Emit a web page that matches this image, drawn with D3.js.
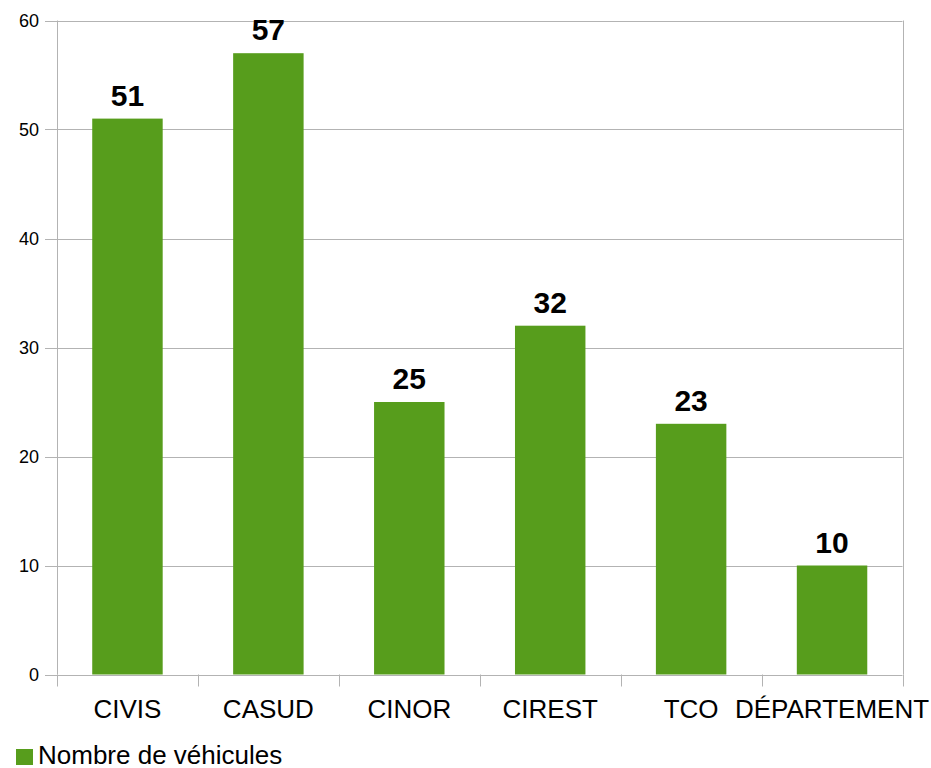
<!DOCTYPE html>
<html lang="fr">
<head>
<meta charset="UTF-8">
<title>Nombre de véhicules</title>
<script src="https://cdnjs.cloudflare.com/ajax/libs/d3/7.8.5/d3.min.js"></script>
<style>
  body { margin: 0; background: #fff; }
  text { font-family: "Liberation Sans", Arial, sans-serif; }
</style>
</head>
<body>
<script>
var categories = ["CIVIS", "CASUD", "CINOR", "CIREST", "TCO", "DÉPARTEMENT"];
var values = [51, 57, 25, 32, 23, 10];
var yTicks = [0, 10, 20, 30, 40, 50, 60];
var seriesName = "Nombre de véhicules";

var width = 931, height = 768;
var margin = {top: 20.5, right: 28.5, bottom: 93.5, left: 57};
var green = "#579d1c", grid = "#b3b3b3";

var svg = d3.select("body").append("svg")
  .attr("width", width)
  .attr("height", height);

var x = d3.scaleBand()
  .domain(categories)
  .range([margin.left, width - margin.right])
  .paddingInner(0.5)
  .paddingOuter(0.25);

var y = d3.scaleLinear()
  .domain([0, 60])
  .range([height - margin.bottom, margin.top]);

// horizontal grid lines + y tick marks
svg.selectAll(".grid")
  .data(yTicks)
  .enter().append("line")
  .attr("x1", margin.left - 12)
  .attr("x2", width - margin.right)
  .attr("y1", function(d) { return Math.round(y(d)) + 0.5; })
  .attr("y2", function(d) { return Math.round(y(d)) + 0.5; })
  .style("stroke", grid)
  .style("stroke-width", 1);

svg.selectAll(".ylab")
  .data(yTicks)
  .enter().append("text")
  .attr("x", margin.left - 18)
  .attr("y", function(d) { return y(d); })
  .attr("dy", "0.36em")
  .attr("text-anchor", "end")
  .style("font-size", "18px")
  .style("fill", "#000")
  .text(function(d) { return d; });

// left and right frame lines
[margin.left, width - margin.right].forEach(function(px) {
  svg.append("line")
    .attr("x1", Math.round(px) + 0.5).attr("x2", Math.round(px) + 0.5)
    .attr("y1", y(60)).attr("y2", y(0))
    .style("stroke", grid);
});

// category tick marks at band boundaries
var bounds = d3.range(categories.length + 1).map(function(i) {
  return margin.left + i * (width - margin.left - margin.right) / categories.length;
});
svg.selectAll(".xtick")
  .data(bounds)
  .enter().append("line")
  .attr("x1", function(d) { return Math.round(d) + 0.5; })
  .attr("x2", function(d) { return Math.round(d) + 0.5; })
  .attr("y1", y(0))
  .attr("y2", y(0) + 12)
  .style("stroke", grid);

// bars
svg.selectAll(".bar")
  .data(values)
  .enter().append("rect")
  .attr("x", function(d, i) { return x(categories[i]); })
  .attr("y", function(d) { return y(d); })
  .attr("width", x.bandwidth())
  .attr("height", function(d) { return y(0) - y(d); })
  .style("fill", green);

// value labels
svg.selectAll(".val")
  .data(values)
  .enter().append("text")
  .attr("x", function(d, i) { return x(categories[i]) + x.bandwidth() / 2; })
  .attr("y", function(d) { return y(d) - 13; })
  .attr("text-anchor", "middle")
  .style("font-size", "30px")
  .style("font-weight", "bold")
  .style("fill", "#000")
  .text(function(d) { return d; });

// category labels
svg.selectAll(".xlab")
  .data(categories)
  .enter().append("text")
  .attr("x", function(d) { return x(d) + x.bandwidth() / 2; })
  .attr("y", 718)
  .attr("text-anchor", "middle")
  .style("font-size", "26px")
  .style("fill", "#000")
  .text(function(d) { return d; });

// legend
svg.append("rect")
  .attr("x", 16).attr("y", 749)
  .attr("width", 17).attr("height", 16)
  .style("fill", green);
svg.append("text")
  .attr("x", 38).attr("y", 764)
  .style("font-size", "26px")
  .style("fill", "#000")
  .text(seriesName);
</script>
</body>
</html>
